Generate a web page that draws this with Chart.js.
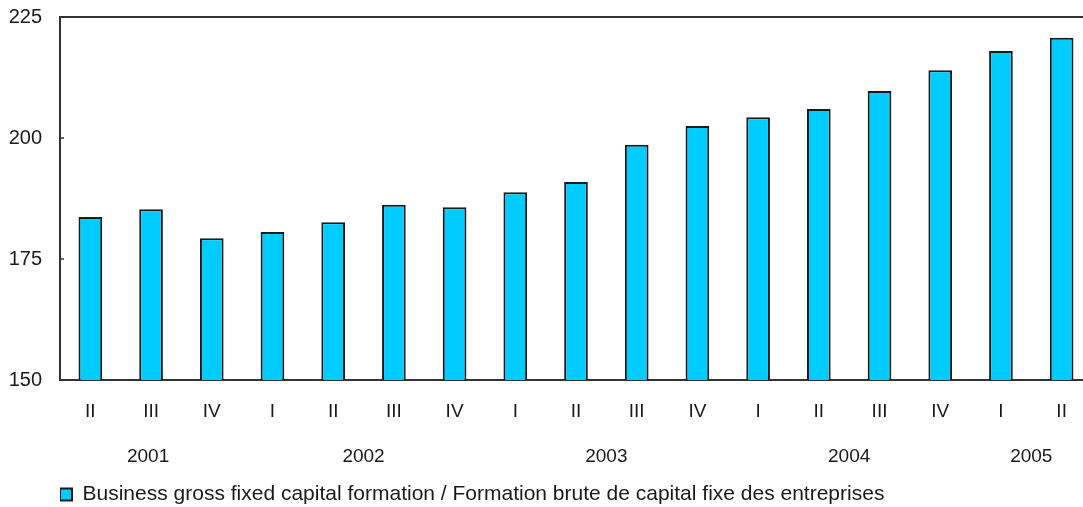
<!DOCTYPE html>
<html>
<head>
<meta charset="utf-8">
<script src="https://cdn.jsdelivr.net/npm/chart.js@4.4.1/dist/chart.umd.min.js"></script>
<style>
  html, body { margin: 0; padding: 0; background: #fff; overflow: hidden; }
  #wrap { position: relative; width: 1092px; height: 507px; }
</style>
</head>
<body>
<div id="wrap"><canvas id="chart"></canvas></div>
<script>
// quarters and values
const quarters = ['II', 'III', 'IV', 'I', 'II', 'III', 'IV', 'I', 'II', 'III', 'IV', 'I', 'II', 'III', 'IV', 'I', 'II'];
const values = [183.7, 185.3, 179.3, 180.6, 182.6, 186.2, 185.7, 188.8, 190.9, 198.6, 202.5, 204.3, 206.0, 209.7, 214.0, 218.0, 220.7];
// year label and the index range of its quarters
const years = ['2001', '2002', '2003', '2004', '2005'];
const yearSpans = [[0, 2], [3, 6], [7, 10], [11, 14], [15, 16]];
const yTicks = [150, 175, 200, 225];
const seriesLabel = 'Business gross fixed capital formation / Formation brute de capital fixe des entreprises';

const FONT = '"Liberation Sans", Arial, sans-serif';
const TEXT = '#1a1a1a';

// top frame line, inward y ticks and the year row
const extras = {
    id: 'extras',
    afterDraw(chart) {
        const ctx = chart.ctx;
        const area = chart.chartArea;
        const x = chart.scales.x;
        const y = chart.scales.y;
        ctx.save();
        ctx.strokeStyle = '#333';
        ctx.lineWidth = 2;
        ctx.beginPath();
        ctx.moveTo(area.left, area.top);
        ctx.lineTo(chart.width, area.top);
        ctx.stroke();
        ctx.lineWidth = 1.5;
        yTicks.forEach(v => {
            const py = y.getPixelForValue(v);
            ctx.beginPath();
            ctx.moveTo(area.left, py);
            ctx.lineTo(area.left + 4, py);
            ctx.stroke();
        });
        ctx.fillStyle = TEXT;
        ctx.font = '19px ' + FONT;
        ctx.textAlign = 'center';
        ctx.textBaseline = 'middle';
        years.forEach((yr, i) => {
            const a = x.getPixelForValue(yearSpans[i][0]);
            const b = x.getPixelForValue(yearSpans[i][1]);
            ctx.fillText(yr, (a + b) / 2 - (i === 0 ? 3 : 0), 457);
        });
        ctx.restore();
    }
};

new Chart(document.getElementById('chart'), {
    type: 'bar',
    data: {
        labels: quarters,
        datasets: [{
            label: seriesLabel,
            data: values,
            backgroundColor: '#00CCFF',
            borderColor: '#1a1a1a',
            borderWidth: 2,
            barPercentage: 0.78,
            categoryPercentage: 0.5
        }]
    },
    options: {
        responsive: true,
        maintainAspectRatio: false,
        animation: false,
        layout: { padding: { top: 17, right: 0, bottom: -8, left: 0 } },
        plugins: {
            tooltip: { enabled: false },
            legend: {
                position: 'bottom',
                align: 'start',
                fullSize: false,
                labels: {
                    boxWidth: 12,
                    boxHeight: 12,
                    padding: 0,
                    color: TEXT,
                    font: { family: FONT, size: 21 }
                }
            }
        },
        scales: {
            x: {
                grid: { display: false },
                border: { display: true, color: '#333', width: 2 },
                ticks: { color: TEXT, font: { family: FONT, size: 19 }, padding: 12, maxRotation: 0 },
                afterFit(scale) {
                    scale.height = 104;
                    scale.paddingLeft = 0;
                    scale.paddingRight = 0;
                }
            },
            y: {
                min: 150,
                max: 225,
                grid: { display: false },
                border: { display: true, color: '#333', width: 2 },
                ticks: {
                    stepSize: 25,
                    color: TEXT,
                    font: { family: FONT, size: 20 },
                    padding: 10
                },
                afterFit(scale) {
                    scale.width = 60;
                    scale.paddingTop = 0;
                    scale.paddingBottom = 0;
                }
            }
        }
    },
    plugins: [extras]
});
</script>
</body>
</html>
